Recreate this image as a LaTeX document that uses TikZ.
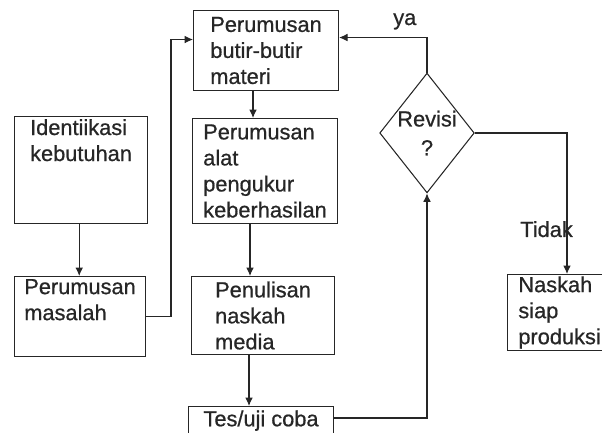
\documentclass[tikz,border=0pt]{standalone}
\usepackage{fontspec}
\setmainfont{Liberation Sans}
\newfontfamily\tebal{Liberation Sans}[FakeBold=0.7]
\usepackage{tikz}
\usetikzlibrary{arrows.meta, positioning, calc, shapes.geometric}

\begin{document}
\begin{tikzpicture}[
  x=0.025cm, y=0.025cm,
  every node/.style={font=\tebal\fontsize{15.5}{18.5}\selectfont, text=black!85},
  kotak/.style={draw=black!85, line width=0.75pt, anchor=north west, align=left, inner sep=1pt},
  keputusan/.style={draw=black!85, line width=0.75pt, diamond, aspect=0.79, inner sep=0pt, align=center},
  panah/.style={draw=black!85, line width=0.75pt, -{Latex[length=6pt,width=5.5pt]}}
]
  \useasboundingbox (0,0) rectangle (602,432);
  \clip (0,0) rectangle (602,432);

  % kolom kiri
  \node[kotak, minimum width=3.325cm, minimum height=2.675cm] (ident)   at (14,316)  {Identiikasi\\kebutuhan\\\strut\\\strut};
  \node[kotak, minimum width=3.275cm, minimum height=2.0cm]   (masalah) at (14,156)  {Perumusan\\masalah\\\strut};

  % kolom tengah
  \node[kotak, minimum width=3.625cm, minimum height=2.0cm]   (butir)   at (193,422) {Perumusan\\butir-butir\\materi};
  \node[kotak, minimum width=3.625cm, minimum height=2.625cm] (alat)    at (192,314) {Perumusan\\alat\\pengukur\\keberhasilan};
  \node[kotak, minimum width=3.575cm, minimum height=1.95cm]  (tulis)   at (191,156) {Penulisan\\naskah\\media};
  \node[kotak, minimum width=3.625cm, inner ysep=2.8pt, text depth=22pt] (tes) at (188,26) {Tes/uji coba};

  % keputusan
  \node[keputusan] (rev) at (427,299) {Revisi\\[2pt]?};
  \node[kotak, minimum width=2.6cm, minimum height=1.9cm] (naskah) at (507,158) {Naskah\\siap\\produksi};

  \node[anchor=base west, inner sep=0pt] (ya)    at (393,407) {ya};
  \node[anchor=base west, inner sep=0pt] (tidak) at (520,195) {Tidak};

  % alur
  \draw[panah] ([xshift=1.63cm]ident.south west) -- ([xshift=1.63cm]ident.south west |- masalah.north);
  \draw[panah] (masalah.east) -| ($(butir.west)+(-22,11)$) -- ($(butir.west)+(0,11)$);
  \draw[panah] ([xshift=1.5cm]butir.south west) -- ([xshift=1.5cm]butir.south west |- alat.north);
  \draw[panah] ([xshift=1.45cm]alat.south west) -- ([xshift=1.45cm]alat.south west |- tulis.north);
  \draw[panah] ([xshift=1.45cm]tulis.south west) -- ([xshift=1.45cm]tulis.south west |- tes.north);
  \draw[panah] ($(tes.north east)+(0,-12)$) -| (rev.south);
  \draw[panah] (rev.north) |- ($(butir.east)+(0,13)$);
  \draw[panah] (rev.east) -| ($(naskah.north west)+(60,0)$);
\end{tikzpicture}
\end{document}
